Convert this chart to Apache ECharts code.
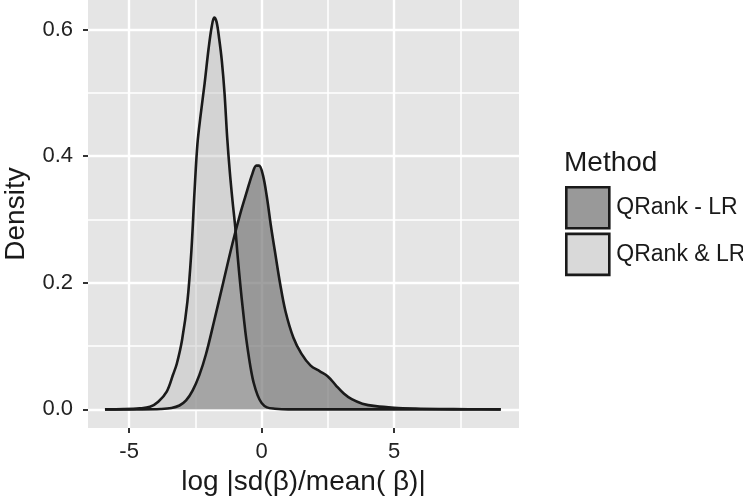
<!DOCTYPE html>
<html>
<head>
<meta charset="utf-8">
<script src="https://cdn.jsdelivr.net/npm/echarts@6/dist/echarts.min.js"></script>
<style>html,body{margin:0;padding:0;background:#fff;}#c{width:743px;height:500px;}</style>
</head>
<body>
<div id="c"></div>
<script>
// ---- data ----
const seriesNames = ['QRank - LR', 'QRank & LR'];
const darkX = [-5.91, -4.5, -3.8, -3.4, -3.1, -2.85, -2.6, -2.35, -2.1, -1.8, -1.45, -1.1, -0.8, -0.55, -0.35, -0.2, -0.1, 0.05, 0.2, 0.35, 0.5, 0.7, 0.9, 1.2, 1.5, 1.85, 2.2, 2.5, 2.8, 3.1, 3.4, 3.8, 4.3, 5.0, 5.8, 6.7, 7.8, 9.02];
const darkY = [0, 0, 0.0005, 0.002, 0.006, 0.014, 0.03, 0.054, 0.087, 0.138, 0.2, 0.262, 0.31, 0.345, 0.372, 0.385, 0.385, 0.37, 0.335, 0.29, 0.25, 0.198, 0.155, 0.113, 0.088, 0.069, 0.06, 0.052, 0.038, 0.025, 0.016, 0.009, 0.005, 0.0025, 0.0012, 0.0005, 0.0002, 0];
const lightX = [-5.91, -5.2, -4.6, -4.21, -3.9, -3.58, -3.34, -3.2, -3.0, -2.8, -2.65, -2.53, -2.42, -2.3, -2.15, -2.0, -1.88, -1.79, -1.7, -1.6, -1.5, -1.4, -1.3, -1.2, -1.1, -1.0, -0.9, -0.8, -0.7, -0.6, -0.5, -0.4, -0.3, -0.15, 0, 0.2, 0.5, 1.0, 9.02];
const lightY = [0, 0.0003, 0.0015, 0.004, 0.012, 0.028, 0.055, 0.072, 0.11, 0.17, 0.25, 0.345, 0.42, 0.465, 0.515, 0.57, 0.605, 0.619, 0.612, 0.585, 0.55, 0.5, 0.43, 0.375, 0.33, 0.29, 0.24, 0.195, 0.155, 0.118, 0.088, 0.062, 0.042, 0.022, 0.01, 0.003, 0.001, 0, 0];
const xMajorTicks = [-5, 0, 5];
const xMinorTicks = [-2.5, 2.5, 7.5];
const yMajorTicks = [0, 0.2, 0.4, 0.6];
const yMinorTicks = [0.1, 0.3, 0.5];
const xRange = [-6.55, 9.71];
const yRange = [-0.0295, 0.6466];
const xTitle = 'log |sd(β)/mean( β)|';
const yTitle = 'Density';
const legendTitle = 'Method';

const FONT = '"Liberation Sans", Arial, sans-serif';
const TXT = '#222222';
const chart = echarts.init(document.getElementById('c'), null, {renderer: 'canvas'});

function pairs(xs, ys) { return xs.map((x, i) => [x, ys[i]]); }

const option = {
  animation: false,
  backgroundColor: '#ffffff',
  title: {
    text: legendTitle, left: 564, top: 149, padding: 0,
    textStyle: {fontFamily: FONT, fontSize: 28, fontWeight: 'normal', color: '#1a1a1a'}
  },
  legend: {
    orient: 'vertical', left: 565, top: 186, padding: 0,
    itemWidth: 43, itemHeight: 41, itemGap: 3,
    textStyle: {fontFamily: FONT, fontSize: 23, color: '#1a1a1a', padding: [0, 0, 0, 2]},
    data: [
      {name: seriesNames[0], icon: 'rect', itemStyle: {color: '#999999', borderColor: '#1a1a1a', borderWidth: 2.6}},
      {name: seriesNames[1], icon: 'rect', itemStyle: {color: '#d9d9d9', borderColor: '#1a1a1a', borderWidth: 2.6}}
    ]
  },
  grid: {
    left: 88, right: 224, top: 0, bottom: 72,
    containLabel: false, outerBoundsMode: 'none',
    show: true, backgroundColor: '#e5e5e5', borderWidth: 0
  },
  xAxis: [
    {
      type: 'value', min: xRange[0], max: xRange[1],
      name: xTitle, nameLocation: 'middle', nameGap: 40,
      nameTextStyle: {fontFamily: FONT, fontSize: 28, color: '#1a1a1a'},
      axisLine: {show: false, onZero: false},
      axisTick: {show: true, length: 5, customValues: xMajorTicks, lineStyle: {color: '#333', width: 2}},
      axisLabel: {customValues: xMajorTicks, margin: 13, fontFamily: FONT, fontSize: 22, color: TXT,
                  formatter: v => String(v)},
      splitLine: {show: true, lineStyle: {color: '#ffffff', width: 2.4}}
    },
    {
      type: 'value', min: xRange[0], max: xRange[1], position: 'bottom',
      axisLine: {show: false, onZero: false},
      axisTick: {show: false, customValues: xMinorTicks},
      axisLabel: {show: false, customValues: xMinorTicks},
      splitLine: {show: true, lineStyle: {color: '#ffffff', width: 1.5}}
    }
  ],
  yAxis: [
    {
      type: 'value', min: yRange[0], max: yRange[1],
      name: yTitle, nameLocation: 'middle', nameGap: 58, nameRotate: 90,
      nameTextStyle: {fontFamily: FONT, fontSize: 28, color: '#1a1a1a'},
      axisLine: {show: false, onZero: false},
      axisTick: {show: true, length: 5, customValues: yMajorTicks, lineStyle: {color: '#333', width: 2}},
      axisLabel: {customValues: yMajorTicks, margin: 15, fontFamily: FONT, fontSize: 22, color: TXT,
                  formatter: v => v.toFixed(1)},
      splitLine: {show: true, lineStyle: {color: '#ffffff', width: 2.4}}
    },
    {
      type: 'value', min: yRange[0], max: yRange[1], position: 'left',
      axisLine: {show: false, onZero: false},
      axisTick: {show: false, customValues: yMinorTicks},
      axisLabel: {show: false, customValues: yMinorTicks},
      splitLine: {show: true, lineStyle: {color: '#ffffff', width: 1.5}}
    }
  ],
  series: [
    {
      name: seriesNames[0], type: 'line', data: pairs(darkX, darkY),
      xAxisIndex: 0, yAxisIndex: 0,
      smooth: 0.35, showSymbol: false, symbol: 'none',
      itemStyle: {color: '#999999'},
      lineStyle: {color: '#1a1a1a', width: 2.6},
      areaStyle: {color: 'rgba(119,119,119,0.7)', opacity: 1}
    },
    {
      name: seriesNames[1], type: 'line', data: pairs(lightX, lightY),
      xAxisIndex: 0, yAxisIndex: 0,
      smooth: 0.35, showSymbol: false, symbol: 'none',
      itemStyle: {color: '#d9d9d9'},
      lineStyle: {color: '#1a1a1a', width: 2.6},
      areaStyle: {color: 'rgba(186,186,186,0.4)', opacity: 1}
    }
  ]
};
chart.setOption(option);
</script>
</body>
</html>
